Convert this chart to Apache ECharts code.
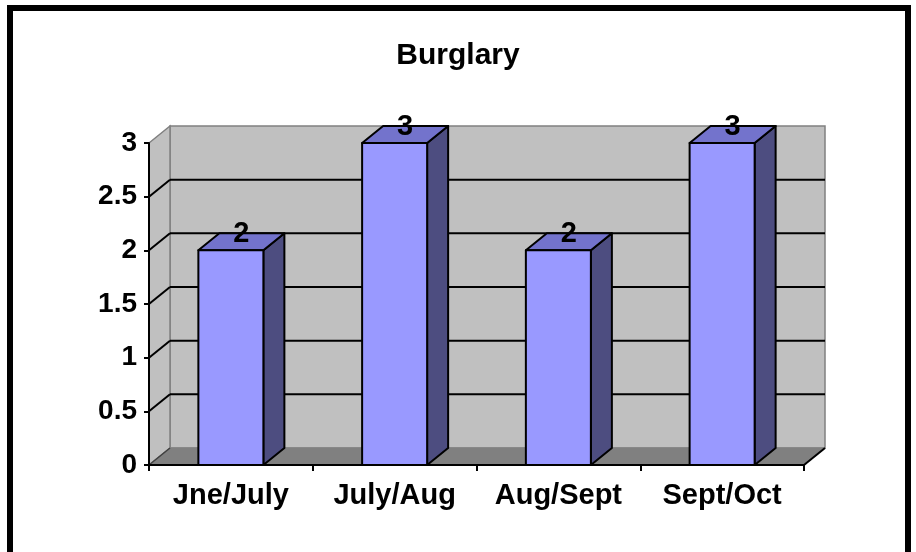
<!DOCTYPE html>
<html>
<head>
<meta charset="utf-8">
<script src="https://cdn.jsdelivr.net/npm/echarts@6/dist/echarts.min.js"></script>
<style>
  html, body { margin: 0; padding: 0; background: #fff; }
  #chart { width: 916px; height: 552px; }
</style>
</head>
<body>
<div id="chart"></div>
<script>
var categories = ["Jne/July", "July/Aug", "Aug/Sept", "Sept/Oct"];
var burglary = [2, 3, 2, 3];
var yMax = 3;
var yStep = 0.5;
var gridValues = [0.5, 1, 1.5, 2, 2.5];

// fake 3d depth, in pixels
var DX = 21, DY = -17;
var FONT = "'Liberation Sans', Arial, sans-serif";

var chart = echarts.init(document.getElementById("chart"));

function walls(params, api) {
  var band = api.size([1, 0])[0];
  var x0 = api.coord([0, 0])[0] - band / 2;
  var x1 = x0 + band * categories.length;
  var yb = api.coord([0, 0])[1];
  var yt = api.coord([0, yMax])[1];
  return {
    type: "group",
    children: [
      { type: "rect", shape: { x: x0 + DX, y: yt + DY, width: x1 - x0, height: yb - yt },
        style: { fill: "#c0c0c0", stroke: "#808080", lineWidth: 1.5 } },
      { type: "polygon", shape: { points: [[x0, yt], [x0 + DX, yt + DY], [x0 + DX, yb + DY], [x0, yb]] },
        style: { fill: "#c0c0c0", stroke: "#808080", lineWidth: 1.5 } },
      { type: "polygon", shape: { points: [[x0, yb], [x1, yb], [x1 + DX, yb + DY], [x0 + DX, yb + DY]] },
        style: { fill: "#808080", stroke: "#808080", lineWidth: 1 } },
      { type: "line", shape: { x1: x1, y1: yb, x2: x1 + DX, y2: yb + DY },
        style: { stroke: "#000", lineWidth: 2 } },
      { type: "line", shape: { x1: x0, y1: yb, x2: x0 + DX, y2: yb + DY },
        style: { stroke: "#404040", lineWidth: 1.5 } }
    ]
  };
}

function gridLine(params, api) {
  var v = api.value(0);
  var band = api.size([1, 0])[0];
  var x0 = api.coord([0, 0])[0] - band / 2;
  var x1 = x0 + band * categories.length;
  var y = api.coord([0, v])[1];
  return {
    type: "group",
    children: [
      { type: "line", shape: { x1: x0 + DX, y1: y + DY, x2: x1 + DX, y2: y + DY },
        style: { stroke: "#000", lineWidth: 2 } },
      { type: "line", shape: { x1: x0, y1: y, x2: x0 + DX, y2: y + DY },
        style: { stroke: "#000", lineWidth: 2 } }
    ]
  };
}

function bar3d(params, api) {
  var idx = api.value(0);
  var top = api.coord([idx, api.value(1)]);
  var base = api.coord([idx, 0]);
  var w = api.size([1, 0])[0] * 0.397;
  var l = top[0] - w / 2, r = top[0] + w / 2;
  var yt = top[1], yb = base[1];
  var line = { stroke: "#000", lineWidth: 2, lineJoin: "round" };
  return {
    type: "group",
    children: [
      { type: "polygon", shape: { points: [[r, yt], [r + DX, yt + DY], [r + DX, yb + DY], [r, yb]] },
        style: Object.assign({ fill: "#4d4d80" }, line) },
      { type: "polygon", shape: { points: [[l, yt], [l + DX, yt + DY], [r + DX, yt + DY], [r, yt]] },
        style: Object.assign({ fill: "#7373cc" }, line) },
      { type: "rect", shape: { x: l, y: yt, width: w, height: yb - yt },
        style: Object.assign({ fill: "#9999ff" }, line) },
      { type: "text", x: top[0] + DX / 2, y: yt - 16,
        style: { text: String(api.value(1)), fill: "#000", font: "bold 29px " + FONT,
          align: "center", verticalAlign: "middle" } }
    ]
  };
}

var option = {
  animation: false,
  backgroundColor: "#fff",
  title: {
    text: "Burglary",
    left: "center",
    top: 36,
    textStyle: { fontFamily: FONT, fontSize: 30, fontWeight: "bold", color: "#000" }
  },
  graphic: [
    { type: "rect", z: 100, shape: { x: 10, y: 8, width: 898, height: 570 },
      style: { fill: "none", stroke: "#000", lineWidth: 6 } }
  ],
  grid: { left: 149, right: 112, top: 143, bottom: 87 },
  xAxis: {
    type: "category",
    data: categories,
    z: 10,
    axisLine: { lineStyle: { color: "#000", width: 2 } },
    axisTick: { show: true, interval: 0, length: 6, lineStyle: { color: "#000", width: 2 } },
    axisLabel: { interval: 0, hideOverlap: false, margin: 16, color: "#000",
      fontFamily: FONT, fontSize: 29, fontWeight: "bold" },
    splitLine: { show: false }
  },
  yAxis: {
    type: "value",
    min: 0,
    max: yMax,
    interval: yStep,
    z: 10,
    axisLine: { show: true, lineStyle: { color: "#000", width: 2 } },
    axisTick: { show: true, length: 5, lineStyle: { color: "#000", width: 2 } },
    axisLabel: { margin: 12, color: "#000", fontFamily: FONT, fontSize: 28, fontWeight: "bold" },
    splitLine: { show: false }
  },
  series: [
    { type: "custom", z: 1, silent: true, renderItem: walls, data: [[0, 0]], clip: false },
    { type: "custom", z: 2, silent: true, renderItem: gridLine,
      encode: { y: 0 },
      data: gridValues.map(function(v) { return [v]; }), clip: false },
    { type: "custom", z: 3, renderItem: bar3d, clip: false,
      encode: { x: 0, y: 1 },
      data: burglary.map(function(v, i) { return [i, v]; }) }
  ]
};

chart.setOption(option);
</script>
</body>
</html>
